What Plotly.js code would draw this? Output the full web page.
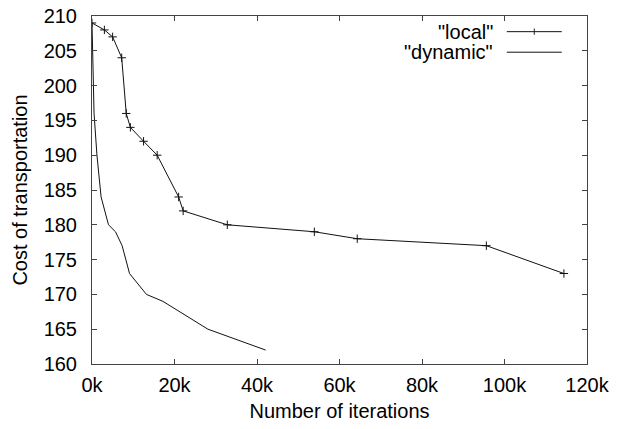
<!DOCTYPE html>
<html>
<head>
<meta charset="utf-8">
<script src="https://cdn.plot.ly/plotly-3.0.1.min.js"></script>
<style>html,body{margin:0;padding:0;background:#fff;}#chart{width:617px;height:429px;}</style>
</head>
<body>
<div id="chart"></div>
<script>
var localX = [0, 3000, 5000, 7200, 8300, 9300, 12500, 15800, 21000, 22100, 32800, 53900, 64300, 95600, 114400];
var localY = [209, 208, 207, 204, 196, 194, 192, 190, 184, 182, 180, 179, 178, 177, 173];
var dynamicX = [0, 500, 1200, 2200, 4000, 5700, 7300, 9100, 13200, 17200, 28100, 42100];
var dynamicY = [209, 196, 190, 184, 180, 179, 177, 173, 170, 169, 165, 162];
var xTickVals = [0, 20000, 40000, 60000, 80000, 100000, 120000];
var xTickText = ['0k', '20k', '40k', '60k', '80k', '100k', '120k'];
var legendNames = ['"local"', '"dynamic"'];

var fontFam = 'Liberation Sans, Arial, Helvetica, sans-serif';
var traces = [
  {x: localX, y: localY, name: legendNames[0], mode: 'lines+markers', type: 'scatter',
   line: {color: '#111', width: 1},
   marker: {symbol: 'cross-thin-open', size: 6, line: {color: '#222', width: 1}}},
  {x: dynamicX, y: dynamicY, name: legendNames[1], mode: 'lines', type: 'scatter',
   line: {color: '#111', width: 1}}
];

var axisCommon = {
  showgrid: false, zeroline: false, showline: true, linecolor: '#444', linewidth: 1,
  mirror: 'ticks', ticks: 'inside', ticklen: 5, tickcolor: '#444', tickwidth: 1,
  tickfont: {family: fontFam, size: 20, color: '#000'}
};

var layout = {
  width: 617, height: 429,
  margin: {l: 92, r: 30, t: 16, b: 65},
  paper_bgcolor: '#fff', plot_bgcolor: '#fff',
  showlegend: false,
  font: {family: fontFam, size: 20, color: '#000'},
  xaxis: Object.assign({}, axisCommon, {
    range: [0, 120000], tickvals: xTickVals, ticktext: xTickText,
    ticklabelstandoff: 3,
    title: {text: 'Number of iterations', font: {family: fontFam, size: 20, color: '#000'}, standoff: 8}
  }),
  yaxis: Object.assign({}, axisCommon, {
    range: [160, 210], dtick: 5, tick0: 160,
    ticklabelstandoff: 10,
    title: {text: 'Cost of transportation', font: {family: fontFam, size: 20, color: '#000'}, standoff: 10}
  }),
  annotations: [
    {xref: 'paper', yref: 'paper', x: 0.814, y: 0.955, xanchor: 'right', yanchor: 'middle',
     text: legendNames[0], showarrow: false, font: {family: fontFam, size: 20, color: '#000'}},
    {xref: 'paper', yref: 'paper', x: 0.814, y: 0.896, xanchor: 'right', yanchor: 'middle',
     text: legendNames[1], showarrow: false, font: {family: fontFam, size: 20, color: '#000'}}
  ],
  shapes: [
    {type: 'line', xref: 'paper', yref: 'paper', x0: 0.838, x1: 0.949, y0: 0.955, y1: 0.955, line: {color: '#111', width: 1}},
    {type: 'line', xref: 'paper', yref: 'paper', x0: 0.8935, x1: 0.8935, y0: 0.946, y1: 0.964, line: {color: '#222', width: 1}},
    {type: 'line', xref: 'paper', yref: 'paper', x0: 0.838, x1: 0.949, y0: 0.896, y1: 0.896, line: {color: '#111', width: 1}}
  ]
};

Plotly.newPlot('chart', traces, layout, {staticPlot: true, displayModeBar: false});
</script>
</body>
</html>
